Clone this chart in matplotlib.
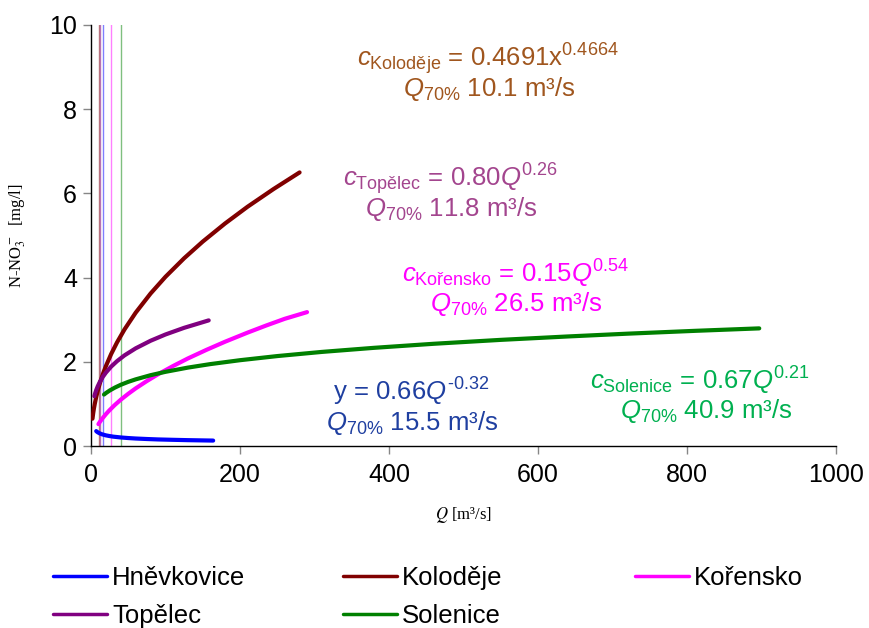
import matplotlib
matplotlib.use('Agg')
import matplotlib.pyplot as plt

plt.rcParams['font.family'] = ['Liberation Sans', 'DejaVu Sans']
plt.rcParams['mathtext.fontset'] = 'custom'
plt.rcParams['mathtext.rm'] = 'Liberation Sans'
plt.rcParams['mathtext.it'] = 'Liberation Sans:italic'
plt.rcParams['mathtext.bf'] = 'Liberation Sans:bold'

# curves (Q in m3/s, c in mg/l)
hnev_q = [7, 8, 9, 10, 12, 15, 20, 25, 30, 40, 50, 60, 75, 90, 110, 130, 150, 164]
hnev_c = [0.354, 0.339, 0.327, 0.316, 0.298, 0.277, 0.253, 0.236, 0.222, 0.203,
          0.189, 0.178, 0.166, 0.156, 0.147, 0.139, 0.133, 0.129]

kolo_q = [2, 3, 4, 5, 7, 9, 12, 16, 20, 27, 35, 45, 60, 80, 100, 125, 150, 180,
          210, 245, 280]
kolo_c = [0.648, 0.783, 0.896, 0.994, 1.163, 1.307, 1.495, 1.710, 1.897, 2.182,
          2.462, 2.769, 3.167, 3.622, 4.019, 4.459, 4.855, 5.286, 5.681, 6.103,
          6.498]

kore_q = [10, 12, 15, 20, 25, 32, 40, 50, 60, 75, 90, 110, 130, 155, 180, 210,
          235, 260, 290]
kore_c = [0.520, 0.574, 0.647, 0.756, 0.853, 0.975, 1.100, 1.240, 1.369, 1.543,
          1.704, 1.898, 2.079, 2.284, 2.477, 2.692, 2.861, 3.021, 3.180]

tope_q = [4.5, 5.5, 7, 9, 12, 16, 20, 27, 35, 45, 60, 80, 100, 125, 158]
tope_c = [1.183, 1.246, 1.327, 1.416, 1.526, 1.645, 1.743, 1.885, 2.016, 2.153,
          2.320, 2.500, 2.649, 2.807, 2.984]

sole_q = [17.5, 20, 25, 32, 40, 50, 60, 80, 100, 130, 160, 200, 250, 310, 380,
          460, 550, 640, 720, 810, 897]
sole_c = [1.222, 1.257, 1.317, 1.387, 1.454, 1.524, 1.583, 1.682, 1.762, 1.862,
          1.945, 2.038, 2.136, 2.235, 2.332, 2.428, 2.521, 2.602, 2.668, 2.735,
          2.794]

# Q70% per station
q70 = {'Hněvkovice': 15.5, 'Koloděje': 10.1, 'Kořensko': 26.5,
       'Topělec': 11.8, 'Solenice': 40.9}

colors = {'Hněvkovice': '#0000FF', 'Koloděje': '#800000', 'Kořensko': '#FF00FF',
          'Topělec': '#800080', 'Solenice': '#008000'}

fig = plt.figure(figsize=(8.69, 6.28), dpi=100)
ax = fig.add_axes([0.1047, 0.2898, 0.8573, 0.6704])

for name, q in q70.items():
    ax.axvline(q, color=colors[name], alpha=0.5, lw=1.0, zorder=1)

lines = {}
series = [('Hněvkovice', hnev_q, hnev_c), ('Koloděje', kolo_q, kolo_c),
          ('Kořensko', kore_q, kore_c), ('Topělec', tope_q, tope_c),
          ('Solenice', sole_q, sole_c)]
for name, q, c in series:
    lines[name], = ax.plot(q, c, color=colors[name], lw=3, label=name,
                           solid_capstyle='round', solid_joinstyle='round',
                           zorder=3)

ax.set_xlim(0, 1000)
ax.set_ylim(0, 10)
ax.set_xticks([0, 200, 400, 600, 800, 1000])
ax.set_yticks([0, 2, 4, 6, 8, 10])
for s in ['top', 'right']:
    ax.spines[s].set_visible(False)
for s in ['left', 'bottom']:
    ax.spines[s].set_linewidth(1.0)
ax.tick_params(direction='out', length=6, width=1, color='#868686',
               labelsize=18, labelcolor='black')
ax.tick_params(axis='x', pad=6)
ax.tick_params(axis='y', pad=4)

ax.set_xlabel('$Q$ [m³/s]', family='Liberation Serif', fontsize=12,
              math_fontfamily='stix')
ax.xaxis.set_label_coords(0.5, -0.14)
ax.set_ylabel('N-NO$_3^-$  [mg/l]', family='Liberation Serif', fontsize=12,
              math_fontfamily='stix')
ax.yaxis.set_label_coords(-0.085, 0.5)

fs = 18.5
ann = [
    (r'$c_{\mathrm{Koloděje}}$ = 0.4691x$^{0.4664}$', 532, 9.01, '#A0561E'),
    (r'$Q_{\mathrm{70\%}}$ 10.1 m³/s', 535, 8.31, '#A0561E'),
    (r'$c_{\mathrm{Topělec}}$ = 0.80$Q^{0.26}$', 483, 6.16, '#A3458E'),
    (r'$Q_{\mathrm{70\%}}$ 11.8 m³/s', 483, 5.46, '#A3458E'),
    (r'$c_{\mathrm{Kořensko}}$ = 0.15$Q^{0.54}$', 570, 3.88, '#FF00FF'),
    (r'$Q_{\mathrm{70\%}}$ 26.5 m³/s', 571, 3.21, '#FF00FF'),
    ('y = 0.66$Q^{\u20100.32}$', 430, 1.09, '#1F3FA0'),
    (r'$Q_{\mathrm{70\%}}$ 15.5 m³/s', 431, 0.38, '#1F3FA0'),
    (r'$c_{\mathrm{Solenice}}$ = 0.67$Q^{0.21}$', 817, 1.33, '#00B050'),
    (r'$Q_{\mathrm{70\%}}$ 40.9 m³/s', 826, 0.66, '#00B050'),
]
for txt, x, y, col in ann:
    ax.text(x, y, txt, color=col, fontsize=fs, ha='center', va='baseline')

# legend, three columns placed separately
cols = [(['Hněvkovice', 'Topělec'], 53), (['Koloděje', 'Solenice'], 343),
        (['Kořensko'], 635)]
for names, px in cols:
    leg = fig.legend([lines[n] for n in names], names, loc='upper left',
                     bbox_to_anchor=(px / 869, 1 - 566 / 628), frameon=False,
                     fontsize=18.5, handlelength=2.1, handletextpad=0.2,
                     labelspacing=0.55, borderpad=0, borderaxespad=0)
    for h in leg.legend_handles:
        h.set_linewidth(2.5)

fig.savefig('out.png', dpi=100)
